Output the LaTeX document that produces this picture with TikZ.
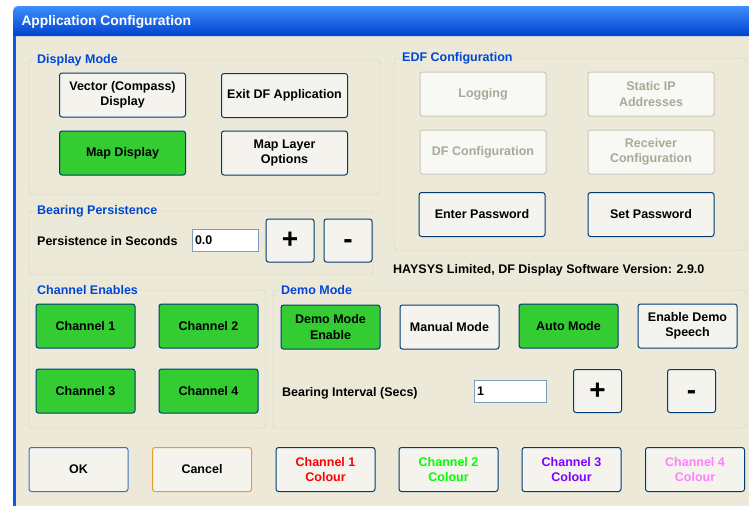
\documentclass[tikz,border=0pt]{standalone}
\usepackage{fontspec}
\setmainfont{Liberation Sans}
\usetikzlibrary{positioning}

\definecolor{xpbeige}{HTML}{ECE9D8}
\definecolor{xpblue}{HTML}{0A5AEB}
\definecolor{xpbluelt}{HTML}{3D8EFF}
\definecolor{xpbluedk}{HTML}{0042CC}
\definecolor{grouptxt}{HTML}{0046D5}
\definecolor{groupedge}{HTML}{D0D0BF}
\definecolor{btnedge}{HTML}{003C74}
\definecolor{btnface}{HTML}{F4F3EE}
\definecolor{btngreen}{HTML}{33CC33}
\definecolor{offedge}{HTML}{C9C7BA}
\definecolor{offtext}{HTML}{ACA899}
\definecolor{boxedge}{HTML}{7F9DB9}
\definecolor{chred}{HTML}{FF0000}
\definecolor{chgreen}{HTML}{00FF00}
\definecolor{chpurple}{HTML}{8000FF}
\definecolor{chpink}{HTML}{FF80FF}
\definecolor{okedge}{HTML}{3F6FC0}
\definecolor{canceledge}{HTML}{E0A030}

\begin{document}
\begin{tikzpicture}[x=1pt, y=-1pt,
	every node/.style={font=\fontsize{12.5}{15.5}\selectfont\bfseries},
	btn/.style={draw=btnedge, fill=btnface, rounded corners=2.5pt, line width=1pt, align=center, inner sep=0pt, minimum height=44pt},
	btnwide/.style={minimum width=126pt},
	btnnarrow/.style={minimum width=99pt},
	btnsq/.style={minimum width=48pt, minimum height=43pt, font=\fontsize{28}{28}\selectfont\bfseries},
	lit/.style={fill=btngreen},
	dim/.style={draw=offedge, text=offtext, fill=btnface!60!white},
	grp/.style={draw=groupedge, rounded corners=3pt},
	grplabel/.style={anchor=west, text=grouptxt, fill=xpbeige, inner xsep=1pt, inner ysep=0pt},
	tbox/.style={draw=boxedge, fill=white, align=left, inner xsep=3pt, inner ysep=0pt, minimum height=22pt}]
	\useasboundingbox (0,0) rectangle (749,506);
	% window
	\fill[white] (0,0) rectangle (749,506);
	\fill[xpbeige] (13,6) rectangle (749,506);
	\shade[top color=xpbluelt, middle color=xpblue, bottom color=xpbluedk] (13,36) [rounded corners=6pt] -- (13,6) [sharp corners] -- (749,6) -- (749,36) -- cycle;
	\fill[xpblue] (13,36) rectangle (16,506);
	\node[anchor=west, text=white, font=\fontsize{13.8}{14}\selectfont\bfseries] (title) at (18,22) {Application Configuration};
	% group frames
	\foreach \name/\xa/\ya/\xb/\yb/\txt in {display/29/60/380/194/Display Mode, edf/394/58/746/250/EDF Configuration, bearing/29/211/373/274/Bearing Persistence, chanen/29/290/266/428/Channel Enables, demo/273/290/746/428/Demo Mode}{
		\draw[grp] (\xa,\ya) rectangle (\xb,\yb);
		\node[grplabel] (\name) at (\xa+7,\ya) {\txt};
	}
	% display mode
	\node[btn, btnwide] (vector) at (122.5,95) {Vector (Compass)\\Display};
	\node[btn, btnwide] (exitdf) at (284.5,95.5) {Exit DF Application};
	\node[btn, btnwide, lit] (mapdisp) at (122.5,153) {Map Display};
	\node[btn, btnwide] (maplayer) at (284.5,153) {Map Layer\\Options};
	% edf configuration
	\node[btn, btnwide, dim] (logging) at (483,94) {Logging};
	\node[btn, btnwide, dim] (staticip) at (651,94) {Static IP\\Addresses};
	\node[btn, btnwide, dim] (dfconf) at (483,152) {DF Configuration};
	\node[btn, btnwide, dim] (receiver) at (651,152) {Receiver\\Configuration};
	\node[btn, btnwide] (enterpw) at (482,214.5) {Enter Password};
	\node[btn, btnwide] (setpw) at (651,214.5) {Set Password};
	\node[anchor=west, inner sep=0pt] (version) at (393,270) {HAYSYS Limited, DF Display Software Version: 2.9.0};
	% bearing persistence
	\node[anchor=west, inner sep=0pt] (perslabel) at (37,241) {Persistence in Seconds};
	\node[tbox, text width=60pt] (persbox) at (225,240) {0.0};
	\node[btn, btnsq] (persplus) at (290,240.5) {+};
	\node[btn, btnsq] (persminus) at (348,240.5) {\smash{\raisebox{-8pt}{-}}};
	% channel enables
	\foreach \n/\x/\y in {1/85.5/326, 2/208.5/326, 3/85.5/391, 4/208.5/391}
		\node[btn, btnnarrow, lit] (chan\n) at (\x,\y) {Channel \n};
	% demo mode
	\node[btn, btnnarrow, lit] (demoen) at (330.5,327) {Demo Mode\\Enable};
	\node[btn, btnnarrow] (manual) at (449.5,327) {Manual Mode};
	\node[btn, btnnarrow, lit] (auto) at (568.5,326) {Auto Mode};
	\node[btn, btnnarrow] (speech) at (687.5,326) {Enable Demo\\Speech};
	\node[anchor=west, inner sep=0pt] (intlabel) at (282,393) {Bearing Interval (Secs)};
	\node[tbox, text width=66pt] (intbox) at (510,391) {1};
	\node[btn, btnsq] (intplus) at (597.5,391) {+};
	\node[btn, btnsq] (intminus) at (691.5,391) {\smash{\raisebox{-8pt}{-}}};
	% bottom row
	\node[btn, btnnarrow, draw=okedge] (ok) at (78.5,469.5) {OK};
	\node[btn, btnnarrow, draw=canceledge] (cancel) at (202,469.5) {Cancel};
	\foreach \n/\x/\c in {1/325.5/chred, 2/448.5/chgreen, 3/571.5/chpurple, 4/695/chpink}
		\node[btn, btnnarrow, text=\c] (colour\n) at (\x,469.5) {Channel \n\\Colour};
\end{tikzpicture}
\end{document}
